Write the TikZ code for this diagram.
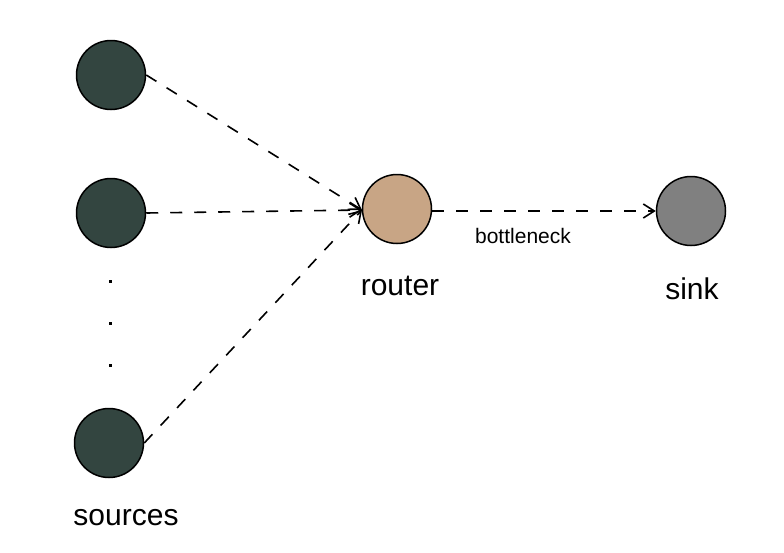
\documentclass[tikz,border=0pt]{standalone}
\usepackage{fontspec}
\setmainfont{Liberation Sans}
\usetikzlibrary{arrows.meta}
\definecolor{srcc}{HTML}{334540}
\definecolor{rtc}{HTML}{C8A585}
\definecolor{snc}{HTML}{808080}
\begin{document}
\begin{tikzpicture}[x=1pt,y=-1pt,
  hostnode/.style={circle,draw=black,line width=1.5pt,minimum size=69pt,inner sep=0pt},
  flow/.style={dash pattern=on 12pt off 12pt,line width=1.6pt,-{Straight Barb[length=11pt,width=14pt,line width=1.6pt]}},
  lbl/.style={font=\fontsize{30}{34}\selectfont,anchor=base}]
\useasboundingbox (0,0) rectangle (784,552);
\node[hostnode,fill=srcc] (s1) at (111,75) {};
\node[hostnode,fill=srcc] (s2) at (111,213) {};
\node[hostnode,fill=srcc] (s3) at (109,443) {};
\node[hostnode,fill=rtc] (r) at (397,209) {};
\node[hostnode,fill=snc] (k) at (691,211) {};
\coordinate (rin) at (362,210);
\coordinate (rout) at (432,211);
\draw[flow] (s1.east) -- (rin);
\draw[flow] (s2.east) -- (rin);
\draw[flow] (s3.east) -- (rin);
\draw[flow] (rout) -- (k.west);
\node[lbl] (ls) at (126,525) {sources};
\node[lbl] (lr) at (400,295) {router};
\node[lbl] (lk) at (692,299) {sink};
\node[anchor=base,font=\fontsize{21}{24}\selectfont] (lb) at (523,243) {bottleneck};
\fill (108.5,279.5) rectangle (111.5,282.5);
\fill (108.5,321.5) rectangle (111.5,324.5);
\fill (108.5,363.5) rectangle (111.5,366.5);
\end{tikzpicture}
\end{document}
